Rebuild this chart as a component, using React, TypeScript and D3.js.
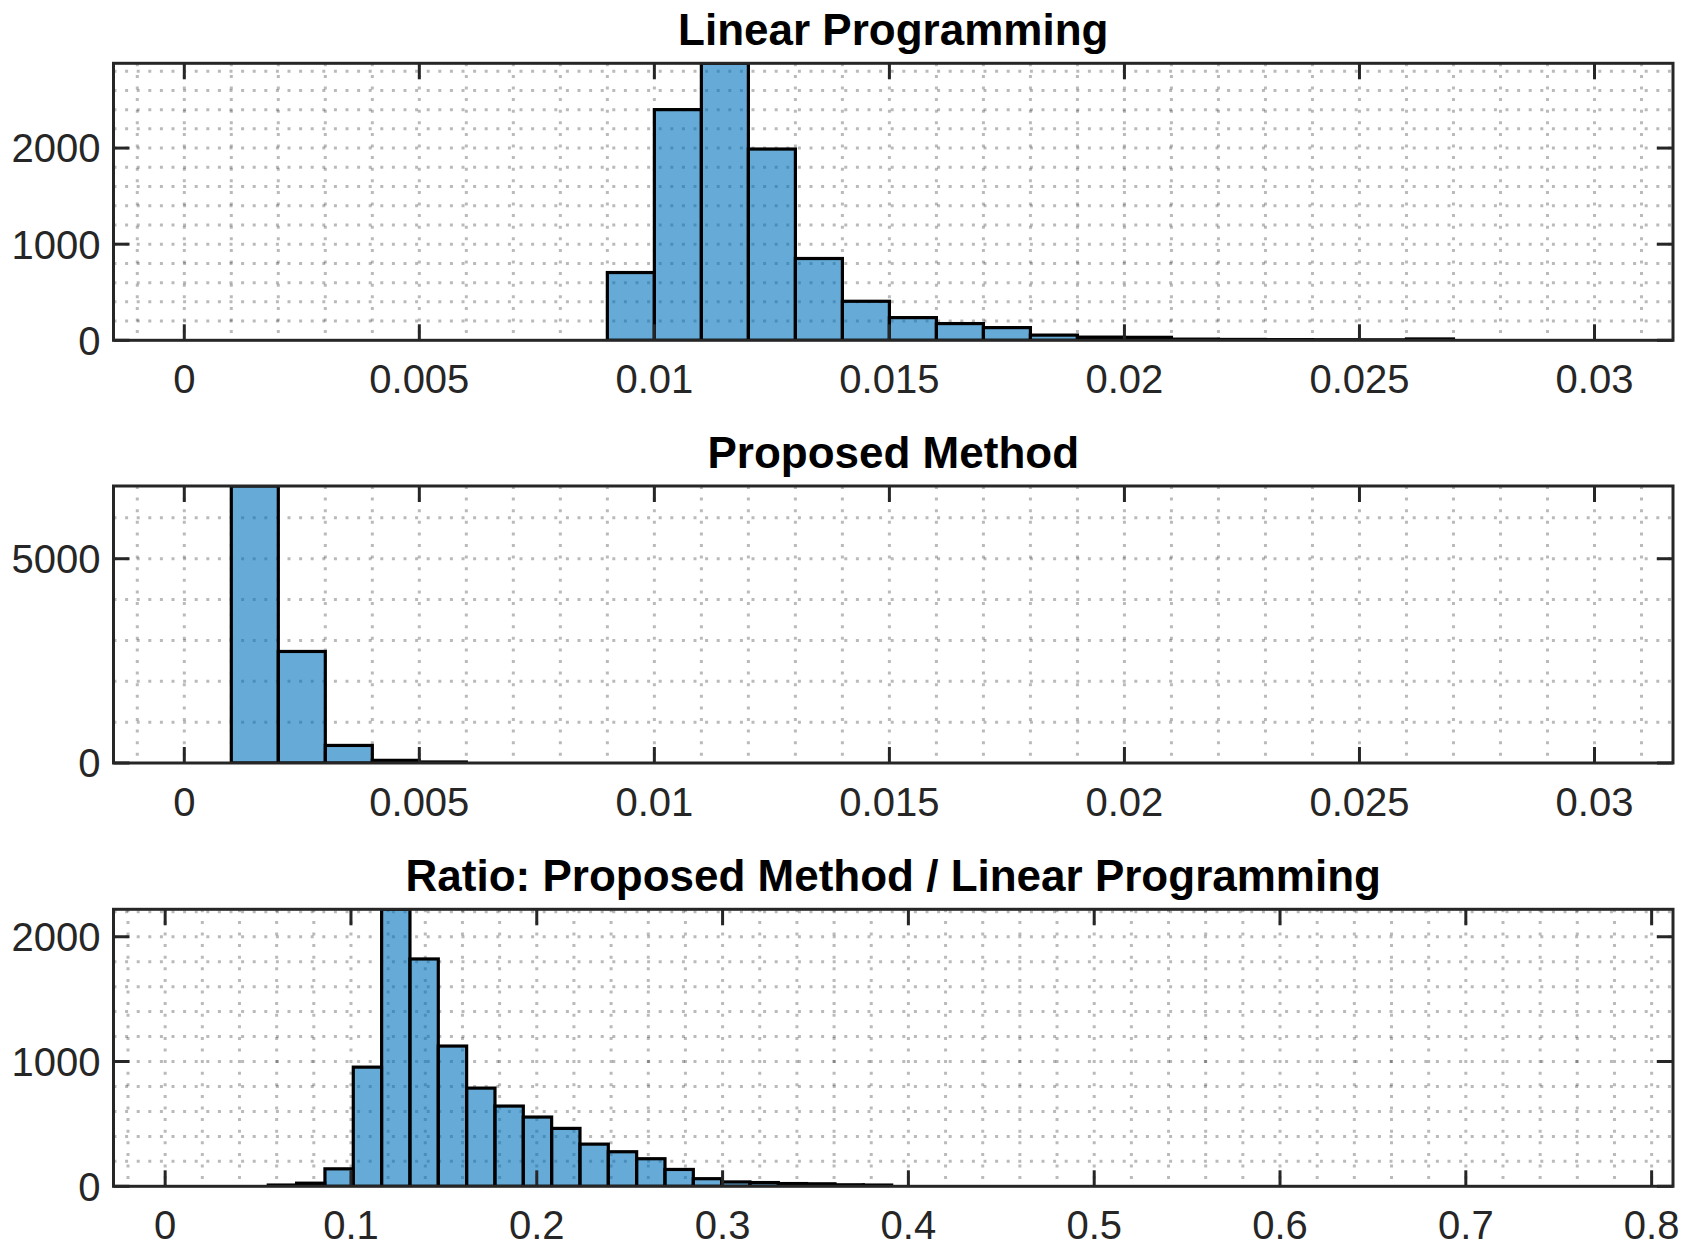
import React, { useEffect, useRef } from 'react';
import * as d3 from 'd3';

// histogram counts
const lpBinStart = 0.009;
const lpBinWidth = 0.001;
const lpCounts = [705, 2400, 2882, 1990, 851, 406, 236, 174, 132, 54, 33, 31, 12, 9, 7, 6, 5, 14];

const pmBinStart = 0.001;
const pmBinWidth = 0.001;
const pmCounts = [6780, 2730, 430, 65, 25];

const ratioBinStart = 0.0555;
const ratioBinWidth = 0.01525;
const ratioCounts = [10, 25, 140, 955, 2220, 1822, 1124, 787, 643, 555, 464, 338, 277, 221, 135, 61, 35, 30, 22, 20, 12, 10];

const smallXTicks = [0, 0.005, 0.01, 0.015, 0.02, 0.025, 0.03];
const smallXLabels = ['0', '0.005', '0.01', '0.015', '0.02', '0.025', '0.03'];
const ratioXTicks = [0, 0.1, 0.2, 0.3, 0.4, 0.5, 0.6, 0.7, 0.8];
const ratioXLabels = ['0', '0.1', '0.2', '0.3', '0.4', '0.5', '0.6', '0.7', '0.8'];
const lpYTicks = [0, 1000, 2000];
const pmYTicks = [0, 5000];
const ratioYTicks = [0, 1000, 2000];

const titles = ['Linear Programming', 'Proposed Method', 'Ratio: Proposed Method / Linear Programming'];

const width = 1690;
const height = 1259;
const plotLeft = 113.5;
const plotRight = 1673;
const plotHeight = 277;

const panels = [
    {
        title: titles[0], top: 63.3, start: lpBinStart, binW: lpBinWidth, counts: lpCounts,
        xDomain: [-0.001506, 0.03167], xTicks: smallXTicks, xLabels: smallXLabels, xMinor: 0.001,
        yTicks: lpYTicks, yMinor: 200,
    },
    {
        title: titles[1], top: 486, start: pmBinStart, binW: pmBinWidth, counts: pmCounts,
        xDomain: [-0.001506, 0.03167], xTicks: smallXTicks, xLabels: smallXLabels, xMinor: 0.001,
        yTicks: pmYTicks, yMinor: 1000,
    },
    {
        title: titles[2], top: 909.3, start: ratioBinStart, binW: ratioBinWidth, counts: ratioCounts,
        xDomain: [-0.0278, 0.8115], xTicks: ratioXTicks, xLabels: ratioXLabels, xMinor: 0.02,
        yTicks: ratioYTicks, yMinor: 200,
    },
];

const axisColor = '#262626';
const font = '"Liberation Sans", Arial, Helvetica, sans-serif';

const App = () => {
    const container = useRef(null);

    useEffect(() => {
        if (!container.current) return;
        const root = d3.select(container.current);
        root.selectAll('*').remove();

        const svg = root.append('svg')
            .attr('width', width)
            .attr('height', height)
            .style('display', 'block')
            .style('background', '#fff');

        panels.forEach((p, pi) => {
            const bottom = p.top + plotHeight;
            const maxCount = d3.max(p.counts) as number;

            const xScale = d3.scaleLinear().domain(p.xDomain).range([plotLeft, plotRight]);
            const yScale = d3.scaleLinear().domain([0, maxCount]).range([bottom, p.top]);

            const g = svg.append('g');

            const clipId = `clip-${pi}`;
            g.append('clipPath').attr('id', clipId)
                .append('rect')
                .attr('x', plotLeft).attr('y', p.top)
                .attr('width', plotRight - plotLeft).attr('height', plotHeight);

            // dotted grid
            const xGrid = d3.range(Math.ceil(p.xDomain[0] / p.xMinor), Math.floor(p.xDomain[1] / p.xMinor) + 1)
                .map(k => k * p.xMinor);
            const yGrid = d3.range(0, maxCount + 1, p.yMinor);

            const grid = g.append('g')
                .attr('stroke', '#000')
                .attr('stroke-opacity', 0.27)
                .attr('stroke-width', 3)
                .attr('stroke-dasharray', '3 8.6');

            grid.selectAll('line.vx')
                .data(xGrid)
                .join('line')
                .attr('x1', d => xScale(d)).attr('x2', d => xScale(d))
                .attr('y1', p.top).attr('y2', bottom);

            grid.selectAll('line.hy')
                .data(yGrid.filter(v => v > 0))
                .join('line')
                .attr('y1', d => yScale(d)).attr('y2', d => yScale(d))
                .attr('x1', plotLeft).attr('x2', plotRight);

            // bars
            g.append('g')
                .attr('clip-path', `url(#${clipId})`)
                .selectAll('rect')
                .data(p.counts)
                .join('rect')
                .attr('x', (d, i) => xScale(p.start + i * p.binW))
                .attr('width', (d, i) => xScale(p.start + (i + 1) * p.binW) - xScale(p.start + i * p.binW))
                .attr('y', d => yScale(d))
                .attr('height', d => yScale(0) - yScale(d))
                .attr('fill', 'rgb(0,114,189)')
                .attr('fill-opacity', 0.6)
                .attr('stroke', '#000')
                .attr('stroke-width', 3.2);

            // ticks (inward, mirrored)
            const tickLen = 16;
            const ticks = g.append('g').attr('stroke', axisColor).attr('stroke-width', 3);
            p.xTicks.forEach(t => {
                const xx = xScale(t);
                ticks.append('line').attr('x1', xx).attr('x2', xx).attr('y1', bottom).attr('y2', bottom - tickLen);
                ticks.append('line').attr('x1', xx).attr('x2', xx).attr('y1', p.top).attr('y2', p.top + tickLen);
            });
            p.yTicks.forEach(t => {
                const yy = yScale(t);
                ticks.append('line').attr('x1', plotLeft).attr('x2', plotLeft + tickLen).attr('y1', yy).attr('y2', yy);
                ticks.append('line').attr('x1', plotRight).attr('x2', plotRight - tickLen).attr('y1', yy).attr('y2', yy);
            });

            // box
            g.append('rect')
                .attr('x', plotLeft).attr('y', p.top)
                .attr('width', plotRight - plotLeft).attr('height', plotHeight)
                .attr('fill', 'none')
                .attr('stroke', axisColor)
                .attr('stroke-width', 3);

            // tick labels
            g.append('g')
                .selectAll('text')
                .data(p.xTicks)
                .join('text')
                .attr('x', d => xScale(d))
                .attr('y', bottom + 53)
                .attr('text-anchor', 'middle')
                .attr('font-family', font)
                .attr('font-size', 40)
                .attr('fill', axisColor)
                .text((d, i) => p.xLabels[i]);

            g.append('g')
                .selectAll('text')
                .data(p.yTicks)
                .join('text')
                .attr('x', plotLeft - 13)
                .attr('y', d => yScale(d))
                .attr('dy', '0.36em')
                .attr('text-anchor', 'end')
                .attr('font-family', font)
                .attr('font-size', 40)
                .attr('fill', axisColor)
                .text(d => String(d));

            // title
            g.append('text')
                .attr('x', (plotLeft + plotRight) / 2)
                .attr('y', p.top - 18)
                .attr('text-anchor', 'middle')
                .attr('font-family', font)
                .attr('font-weight', 'bold')
                .attr('font-size', 44)
                .attr('fill', '#000')
                .text(p.title);
        });
    }, []);

    return (<div ref={container} style={{ position: 'absolute', left: 0, top: 0 }} />);
};

export default App;
